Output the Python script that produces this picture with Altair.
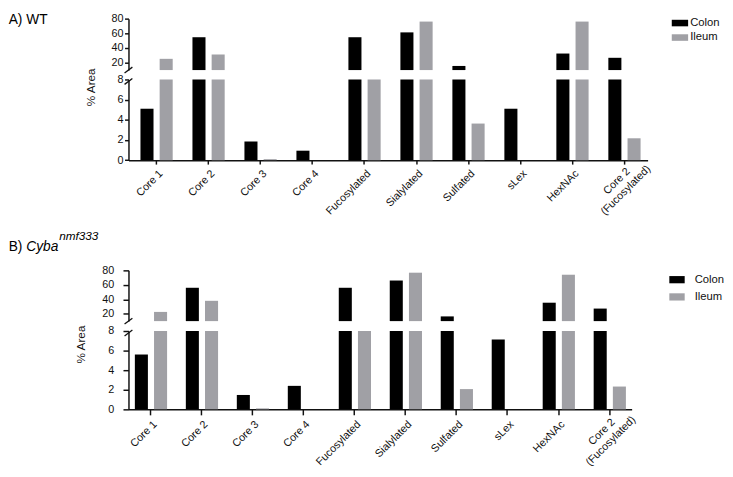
import altair as alt
import pandas as pd

# ---------------- data ----------------
categories = ["Core 1", "Core 2", "Core 3", "Core 4", "Fucosylated", "Sialylated",
              "Sulfated", "sLex", "HexNAc", "Core 2|(Fucosylated)"]
tissues = ["Colon", "Ileum"]

wt_colon = [5.1, 54.7, 1.84, 0.94, 54.7, 61.3, 15.6, 5.1, 32.5, 26.7]
wt_ileum = [25.3, 31.2, 0.1, 0.0, 8.0, 76.0, 3.63, 0.0, 76.0, 2.17]
ko_colon = [5.6, 56.0, 1.47, 2.4, 56.0, 66.0, 16.5, 7.13, 35.4, 27.3]
ko_ileum = [22.7, 38.0, 0.1, 0.0, 8.0, 76.8, 2.07, 0.0, 74.0, 2.33]

upper_ticks = [20, 40, 60, 80]
lower_ticks = [0, 2, 4, 6, 8]
LOWER_MAX = 8
UPPER_MIN = 10
UPPER_MAX = 80

FONT = "Liberation Sans"
INK = "#111111"
colors = ["#000000", "#a0a0a5"]
MULTI = "indexof(datum.value, '|') >= 0"


def long_df(colon, ileum):
    return pd.DataFrame({
        "cat": categories * 2,
        "tissue": ["Colon"] * len(categories) + ["Ileum"] * len(categories),
        "value": colon + ileum,
    })


def slash(cy):
    return alt.Chart(pd.DataFrame({"k": [0]})).mark_rule(color=INK, strokeWidth=1.3).encode(
        x=alt.value(-4), x2=alt.value(4), y=alt.value(cy + 3), y2=alt.value(cy - 3))


def text_layer(txt, x, y, size, style="normal", baseline="alphabetic"):
    return alt.Chart(pd.DataFrame({"t": [txt]})).mark_text(
        align="left", baseline=baseline, fontSize=size, fontStyle=style,
        color="#000000", font=FONT).encode(text="t:N", x=alt.value(x), y=alt.value(y))


def panel(colon, ileum, titles, p):
    df = long_df(colon, ileum)
    xs = alt.Scale(domain=categories, paddingInner=p["pi"], paddingOuter=p["po"], align=p["align"])
    xo = alt.Scale(domain=tissues, paddingInner=0.32, paddingOuter=0)
    cs = alt.Scale(domain=tissues, range=colors)
    yax = dict(domainColor=INK, domainWidth=1.5, tickColor=INK, tickWidth=1.5,
               tickSize=p["ts"], labelFontSize=11, labelColor=INK,
               labelPadding=p["lp"], grid=False)

    upper_bars = alt.Chart(df).transform_filter(f"datum.value > {UPPER_MIN}").mark_bar().encode(
        x=alt.X("cat:N", sort=categories, scale=xs, axis=None),
        xOffset=alt.XOffset("tissue:N", sort=tissues, scale=xo),
        y=alt.Y("value:Q",
                scale=alt.Scale(domain=[UPPER_MIN, UPPER_MAX], nice=False, zero=False, clamp=True),
                axis=alt.Axis(values=upper_ticks, title=None, **yax)),
        y2=alt.Y2Datum(UPPER_MIN),
        color=alt.Color("tissue:N", scale=cs, sort=tissues,
                        legend=alt.Legend(title=None, orient="none",
                                          legendX=p["lgx"], legendY=p["lgy"],
                                          symbolType=p["sym"], symbolSize=p["symsize"],
                                          symbolStrokeWidth=0, symbolOpacity=1,
                                          labelFontSize=11.5, labelColor=INK,
                                          labelOffset=p["lgoff"], rowPadding=p["lgrow"],
                                          padding=0)),
    )
    upper = alt.layer(upper_bars, slash(p["up_h"]), *titles).properties(
        width=p["W"], height=p["up_h"])

    lower_bars = alt.Chart(df).mark_bar().encode(
        x=alt.X("cat:N", sort=categories, scale=xs,
                axis=alt.Axis(title=None, labelAngle=-45,
                              labelExpr="split(datum.label, '|')",
                              labelAlign=alt.condition(MULTI, alt.value("center"), alt.value("right")),
                              labelBaseline="top",
                              labelPadding=alt.condition(MULTI, alt.value(13), alt.value(3.5)),
                              labelOffset=alt.condition(MULTI, alt.value(-12), alt.value(0.5)),
                              labelFontSize=11, labelLineHeight=13, labelColor=INK,
                              labelOverlap=False, labelBound=False,
                              domainColor=INK, domainWidth=1.5, tickColor=INK,
                              tickWidth=1.5, tickSize=p["ts"])),
        xOffset=alt.XOffset("tissue:N", sort=tissues, scale=xo),
        y=alt.Y("value:Q",
                scale=alt.Scale(domain=[0, LOWER_MAX], nice=False, clamp=True),
                axis=alt.Axis(values=lower_ticks, title="% Area", titleX=p["tx"], titleY=p["ty"],
                              titleFontSize=12, titleFontWeight="normal", titleColor=INK,
                              titleFont=FONT, **yax)),
        color=alt.Color("tissue:N", scale=cs, sort=tissues, legend=None),
    )
    lower = alt.layer(lower_bars, slash(2)).properties(width=p["W"], height=p["low_h"])

    return alt.vconcat(upper, lower, spacing=p["gap"], bounds="flush").resolve_scale(
        y="independent").resolve_legend(color="independent")


pA = dict(W=530, up_h=52.5, low_h=82.4, gap=9.1, pi=0.38, po=0.183, align=0.63,
          ts=4, lp=1.5, tx=-31.6, ty=7.5,
          lgx=554.5, lgy=-4.0, sym="M-1,-0.4L1,-0.4L1,0.4L-1,0.4Z", symsize=279,
          lgoff=2, lgrow=0.8)
pB = dict(W=513.7, up_h=51.8, low_h=80, gap=9.9, pi=0.38, po=0.125, align=0.5,
          ts=5.6, lp=9.5, tx=-42, ty=13.3,
          lgx=552, lgy=1.5, sym="M-1,-0.47L1,-0.47L1,0.47L-1,0.47Z", symsize=246,
          lgoff=10, lgrow=3.6)

LEFT = -122.3
titleA = [text_layer("A) WT", LEFT, -6, 14, baseline="top")]
titleB = [text_layer("B)", LEFT, -19.6, 14),
          text_layer("Cyba", LEFT + 18, -19.6, 14, "italic"),
          text_layer("nmf333", LEFT + 51.5, -31, 12, "italic")]

panelA = panel(wt_colon, wt_ileum, titleA, pA)
panelB = panel(ko_colon, ko_ileum, titleB, pB)

chart = alt.vconcat(panelA, panelB, spacing=13).resolve_scale(
    x="independent", y="independent").resolve_legend(color="independent").properties(
    padding=0).configure(font=FONT).configure_view(stroke=None)

chart.save("out.html", embed_options={"renderer": "svg", "actions": False})
